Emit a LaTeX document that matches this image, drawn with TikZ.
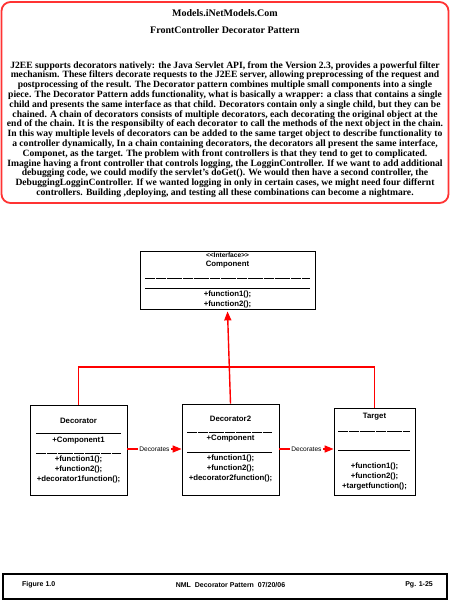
\documentclass[tikz,border=0pt]{standalone}
\usepackage{fontspec}
\setmainfont{Liberation Serif}
\setsansfont{Liberation Sans}
\usetikzlibrary{arrows.meta}
\definecolor{boxred}{RGB}{255,51,51}
\definecolor{linered}{RGB}{255,0,0}
\begin{document}
\begin{tikzpicture}[x=1pt,y=-1pt,
  umlbox/.style={draw=black, line width=0.8, fill=white, inner sep=0},
  umltext/.style={font=\sffamily\bfseries\fontsize{7.8}{10}\selectfont, align=center, inner sep=0},
  smalltext/.style={font=\sffamily\bfseries\fontsize{6.6}{8}\selectfont, inner sep=0},
  sepsolid/.style={line width=0.6},
  sepdash/.style={line width=0.6, dash pattern=on 5pt off 0.4pt},
  redline/.style={draw=linered, line width=1.4},
  redarrow/.style={redline, -{Triangle[length=9pt,width=7pt]}},
  decorates/.style={font=\sffamily\fontsize{6.6}{7}\selectfont, fill=white, inner sep=1pt},
  footertext/.style={font=\sffamily\bfseries\fontsize{7}{8}\selectfont, inner sep=0}
]
\useasboundingbox (0,0) rectangle (450,601);

% header box
\node[draw=boxred, line width=1.8, rounded corners=9, minimum width=447, minimum height=201, inner sep=0] (hdr) at (225,102.5) {};
\node[font=\bfseries\fontsize{10}{11}\selectfont, inner sep=0] (title1) at (225,12.7) {Models.iNetModels.Com};
\node[font=\bfseries\fontsize{10}{11}\selectfont, inner sep=0] (title2) at (225,30) {FrontController Decorator Pattern};
\node[font=\bfseries\fontsize{9.6}{9.8}\selectfont, align=center, inner sep=0] (para) at (225,129.5) {%
J2EE supports decorators natively: the Java Servlet API, from the Version 2.3, provides a powerful filter\\
mechanism. These filters decorate requests to the J2EE server, allowing preprocessing of the request and\\
postprocessing of the result. The Decorator pattern combines multiple small components into a single\\
piece. The Decorator Pattern adds functionality, what is basically a wrapper: a class that contains a single\\
child and presents the same interface as that child. Decorators contain only a single child, but they can be\\
chained. A chain of decorators consists of multiple decorators, each decorating the original object at the\\
end of the chain. It is the responsibilty of each decorator to call the methods of the next object in the chain.\\
In this way multiple levels of decorators can be added to the same target object to describe functionality to\\
a controller dynamically, In a chain containing decorators, the decorators all present the same interface,\\
Componet, as the target. The problem with front controllers is that they tend to get to complicated.\\
Imagine having a front controller that controls logging, the LogginController. If we want to add additional\\
debugging code, we could modify the servlet's doGet(). We would then have a second controller, the\\
DebuggingLogginController. If we wanted logging in only in certain cases, we might need four differnt\\
controllers. Building ,deploying, and testing all these combinations can become a nightmare.};

% Component interface
\node[umlbox, minimum width=175, minimum height=58] (comp) at (227.5,280) {};
\node[smalltext] (compst) at (227.5,255) {<{}<Interface>{}>};
\node[umltext] (compname) at (227.5,265) {Component};
\draw[sepdash] (145,278) coordinate (c1a) -- (310,278) coordinate (c1b);
\draw[sepsolid] (145,288) coordinate (c2a) -- (310,288) coordinate (c2b);
\node[umltext] (compops) at (227.5,299) {+function1();\\+function2();};

% Decorator
\node[umlbox, minimum width=97, minimum height=90] (dec) at (78.5,450) {};
\node[umltext] (decname) at (78.5,421) {Decorator};
\draw[sepsolid] (36,433) -- (121,433);
\node[umltext] (decattr) at (78.5,441) {+Component1};
\draw[sepdash] (36,453) -- (121,453);
\node[umltext] (decops) at (78.5,469) {+function1();\\+function2();\\+decorator1function();};

% Decorator2
\node[umlbox, minimum width=97, minimum height=91] (dec2) at (230.5,449.5) {};
\node[umltext] (dec2name) at (230.5,419) {Decorator2};
\draw[sepdash] (187,432) -- (272,432);
\node[umltext] (dec2attr) at (230.5,439) {+Component};
\draw[sepsolid] (187,452) -- (272,452);
\node[umltext] (dec2ops) at (230.5,468) {+function1();\\+function2();\\+decorator2function();};

% Target
\node[umlbox, minimum width=81, minimum height=87] (tgt) at (374.5,451.5) {};
\node[umltext] (tgtname) at (374.5,417) {Target};
\draw[sepdash] (338,431) -- (410,431);
\draw[sepsolid] (338,450) -- (410,450);
\node[umltext] (tgtops) at (374.5,476) {+function1();\\+function2();\\+targetfunction();};

% generalisation connectors
\coordinate (bus) at (0,367);
\draw[redline] (dec.north) -- (dec.north |- bus) -- (tgt.north |- bus) -- (tgt.north);
\draw[redarrow] (dec2.north) -- ([yshift=-2pt]comp.south);

% decorates connectors
\coordinate (decy) at (0,449);
\draw[redarrow] (dec.east |- decy) -- node[decorates] (lab1) {Decorates} (dec2.west |- decy);
\draw[redarrow] (dec2.east |- decy) -- node[decorates] (lab2) {Decorates} (tgt.west |- decy);

% footer
\node[draw=black, line width=1.3, minimum width=444, minimum height=25, inner sep=0] (foot) at (225,586.5) {};
\node[footertext, anchor=west] (fig) at (22,585) {Figure 1.0};
\node[footertext] (mid) at (230.5,585) {NML\ \ Decorator Pattern\ \ 07/20/06};
\node[footertext, anchor=east] (pg) at (433,585) {Pg. 1-25};
\end{tikzpicture}
\end{document}
